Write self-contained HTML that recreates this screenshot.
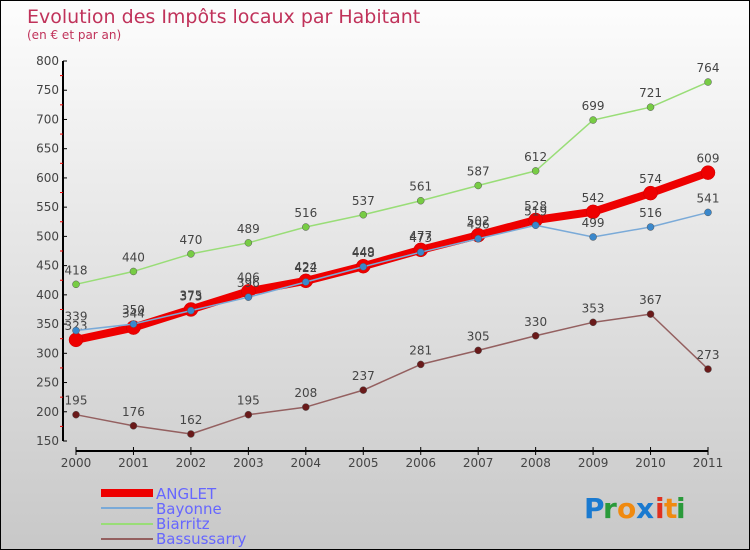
<!DOCTYPE html>
<html><head><meta charset="utf-8"><style>
body{margin:0;}
#c{width:750px;height:550px;position:relative;box-sizing:border-box;border:1px solid #000;background:linear-gradient(#fdfdfd,#c8c8c8);font-family:"DejaVu Sans","Liberation Sans",sans-serif;overflow:hidden;}
svg text{font-family:"DejaVu Sans","Liberation Sans",sans-serif;}
</style></head><body>
<div id="c">
<svg id="s" width="750" height="550" xmlns="http://www.w3.org/2000/svg">
<text x="26" y="22" font-size="19" fill="#c0325a">Evolution des Impôts locaux par Habitant</text>
<text x="26" y="38" font-size="12" fill="#c0325a">(en € et par an)</text>
<g id="axes"></g><g id="series"></g>
<g>
<rect x="100" y="488" width="52" height="8" fill="#e00"/>
<text x="155" y="498" font-size="15" fill="#6666ff">ANGLET</text>
<rect x="100" y="506" width="52" height="2" fill="#7aaad8"/>
<text x="155" y="513" font-size="15" fill="#6666ff">Bayonne</text>
<rect x="100" y="522" width="52" height="2" fill="#99dd77"/>
<text x="155" y="528" font-size="15" fill="#6666ff">Biarritz</text>
<rect x="100" y="537" width="52" height="2" fill="#946060"/>
<text x="155" y="543" font-size="15" fill="#6666ff">Bassussarry</text>
</g>
<g font-size="28" font-weight="bold">
<text x="583" y="517" fill="#1a7ad0">P</text><text x="602" y="517" fill="#2a9a3a">r</text><text x="616" y="517" fill="#f08a10">o</text><text x="635" y="517" fill="#1a7ad0">x</text><text x="654" y="517" fill="#e03020">i</text><text x="663" y="517" fill="#f08a10">t</text><text x="675" y="517" fill="#2a9a3a">i</text>
</g>
</svg></div>
<script>
const years=["2000","2001","2002","2003","2004","2005","2006","2007","2008","2009","2010","2011"];
const yTicks=[150,200,250,300,350,400,450,500,550,600,650,700,750,800];
const anglet=[323,344,375,406,424,449,477,502,528,542,574,609];
const bayonne=[339,350,373,396,422,448,473,496,519,499,516,541];
const biarritz=[418,440,470,489,516,537,561,587,612,699,721,764];
const bassussarry=[195,176,162,195,208,237,281,305,330,353,367,273];
const NS="http://www.w3.org/2000/svg";
function X(i){return 75+i*(707-75)/11;}
function Y(v){return 440-(v-150)*(380/650);}
function mk(t,a,p){const e=document.createElementNS(NS,t);for(const k in a)e.setAttribute(k,a[k]);p.appendChild(e);return e;}
const ax=document.getElementById('axes');
let yl=mk('line',{x1:62,y1:60,x2:62,y2:440,stroke:'#000','stroke-width':2},ax);


yTicks.forEach((v,i)=>{
  mk('line',{x1:62,y1:Y(v),x2:66,y2:Y(v),stroke:'#000'},ax);
  if(i<yTicks.length-1)mk('line',{x1:59,y1:Y(v+25),x2:62,y2:Y(v+25),stroke:'#e00'},ax);
  const t=mk('text',{x:58,y:Y(v)+4,'font-size':12,fill:'#444','text-anchor':'end'},ax);
  t.textContent=v;
  
  
});
let xl=mk('line',{x1:75,y1:450,x2:707,y2:450,stroke:'#000','stroke-width':2},ax);


years.forEach((y,i)=>{
  mk('line',{x1:X(i),y1:446,x2:X(i),y2:454,stroke:'#000'},ax);
  const t=mk('text',{x:X(i),y:466,'font-size':12,fill:'#444','text-anchor':'middle'},ax);
  t.textContent=y;
  
  
});
const sg=document.getElementById('series');
function draw(vals,name,color,dot,w,r){
  const g=mk('g',{},sg);
  
  
  mk('polyline',{points:vals.map((v,i)=>X(i)+','+Y(v)).join(' '),fill:'none',stroke:color,'stroke-width':w,'stroke-linejoin':'round'},g);
  vals.forEach((v,i)=>{
    const c=mk('circle',{cx:X(i),cy:Y(v),r:r,fill:dot,stroke:color==='#e00'?'#c00':'#555','stroke-width':0.5},g);
    
    
    const t=mk('text',{x:X(i),y:Y(v)-10,'font-size':12,fill:'#444','text-anchor':'middle'},g);
    t.textContent=v;
    
    
  });
}
draw(bassussarry,'bassussarry','#946060','#6a1a1a',1.5,3.5);
draw(biarritz,'biarritz','#99dd77','#77cc44',1.5,3.5);
draw(anglet,'anglet','#e00','#e00',8,7);
draw(bayonne,'bayonne','#7aaad8','#3a88cc',1.5,3.5);
</script>
</body></html>
